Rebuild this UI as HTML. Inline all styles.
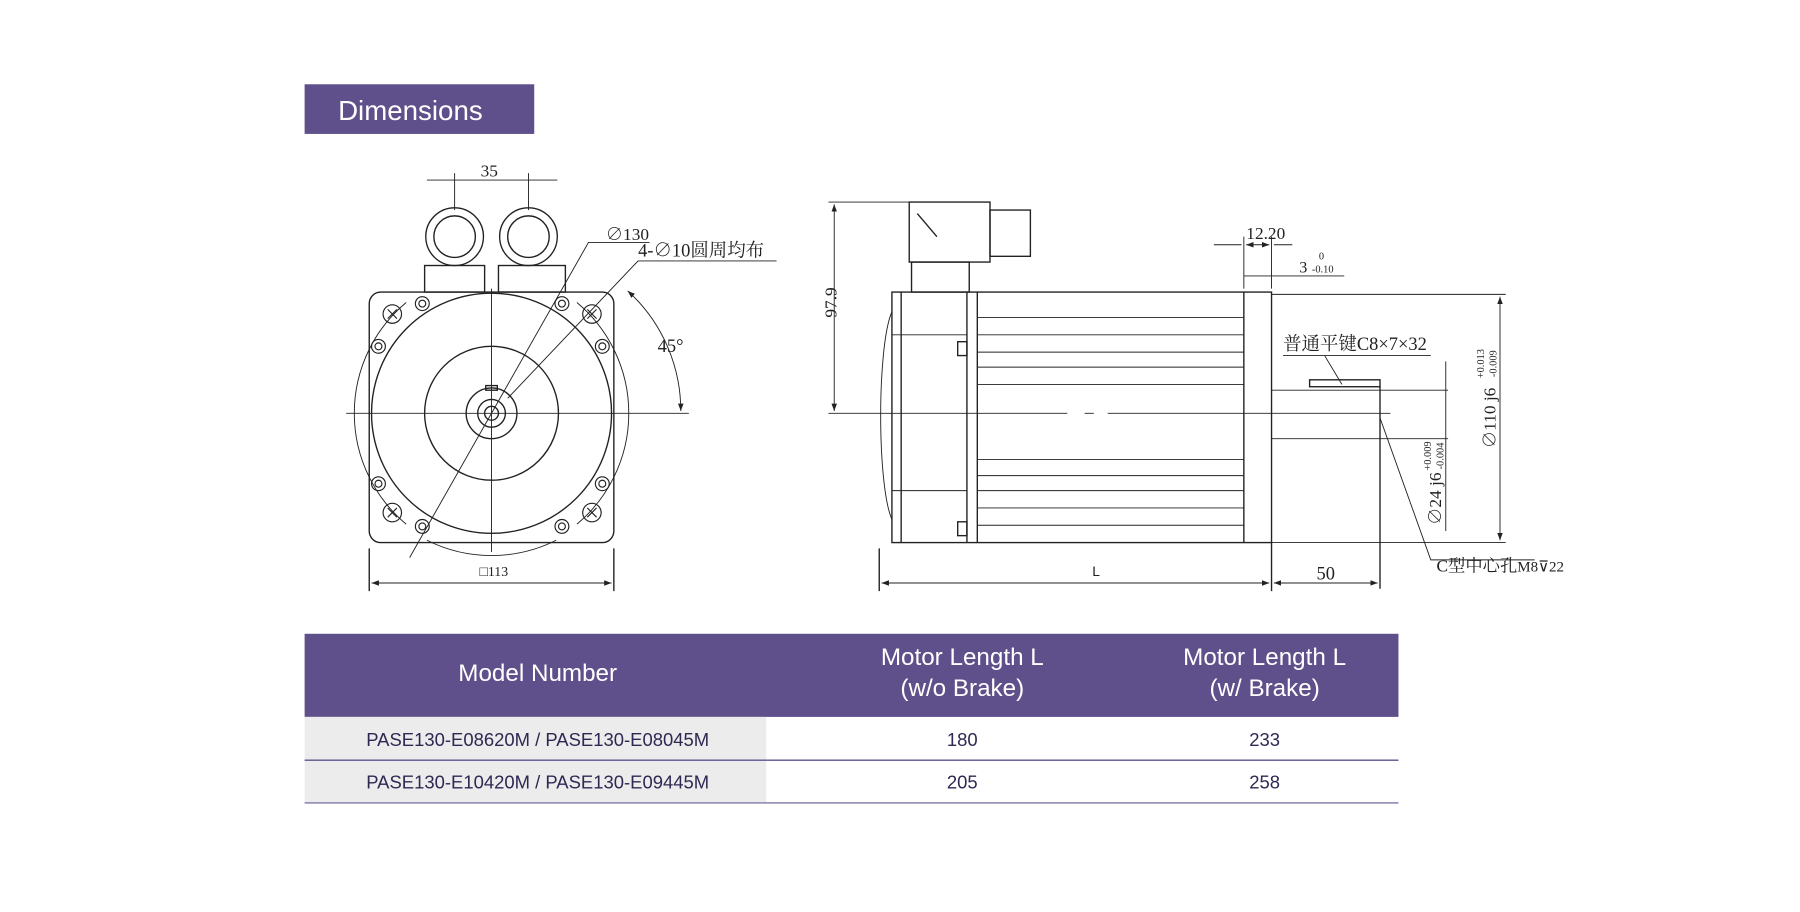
<!DOCTYPE html>
<html><head><meta charset="utf-8"><style>
html,body{margin:0;padding:0;background:#fff;}
svg{display:block}
text{font-family:"Liberation Serif","Noto Serif CJK SC",serif;fill:#222}
text.s,.s text{font-family:"Liberation Sans",sans-serif}
</style></head><body>
<svg width="1800" height="912" viewBox="0 0 1560 790" preserveAspectRatio="none" xmlns="http://www.w3.org/2000/svg">
<defs><marker id="a" markerWidth="8" markerHeight="6" refX="8" refY="3" orient="auto-start-reverse"><path d="M0,0L8,3L0,6z" fill="#222"/></marker></defs>
<rect x="264" y="73" width="199" height="43" fill="#5f4f8a"/>
<text x="293" y="104" class="s" font-size="24" style="fill:#fff">Dimensions</text>

<g stroke="#222" fill="none" stroke-width="1.2">
<rect x="320" y="253" width="212" height="217" rx="10"/>
<circle cx="426" cy="358" r="104"/>
<path d="M352,262 A125,125 0 0 0 352,454 M500,262 A125,125 0 0 1 500,454 M370,468 A125,125 0 0 0 482,468" stroke-width="0.8"/>
<circle cx="426" cy="358" r="58"/>
<circle cx="426" cy="358" r="22"/>
<circle cx="426" cy="358" r="12"/>
<circle cx="426" cy="358" r="6"/>
<rect x="421" y="334" width="10" height="4"/>
<g stroke-width="1">
<circle cx="366" cy="263" r="6"/><circle cx="366" cy="263" r="3"/>
<circle cx="487" cy="263" r="6"/><circle cx="487" cy="263" r="3"/>
<circle cx="328" cy="300" r="6"/><circle cx="328" cy="300" r="3"/>
<circle cx="522" cy="300" r="6"/><circle cx="522" cy="300" r="3"/>
<circle cx="328" cy="419" r="6"/><circle cx="328" cy="419" r="3"/>
<circle cx="522" cy="419" r="6"/><circle cx="522" cy="419" r="3"/>
<circle cx="366" cy="456" r="6"/><circle cx="366" cy="456" r="3"/>
<circle cx="487" cy="456" r="6"/><circle cx="487" cy="456" r="3"/>
<circle cx="340" cy="272" r="8"/><path d="M336,268l8,8M344,268l-8,8"/>
<circle cx="513" cy="272" r="8"/><path d="M509,268l8,8M517,268l-8,8"/>
<circle cx="340" cy="444" r="8"/><path d="M336,440l8,8M344,440l-8,8"/>
<circle cx="513" cy="444" r="8"/><path d="M509,440l8,8M517,440l-8,8"/>
</g>
<path d="M300,358H597M426,250V478" stroke-width="0.8"/>
<circle cx="394" cy="205" r="25"/><circle cx="394" cy="205" r="18"/>
<circle cx="458" cy="205" r="25"/><circle cx="458" cy="205" r="18"/>
<rect x="368" y="230" width="52" height="23"/><rect x="432" y="230" width="58" height="23"/>
<path d="M370,156H483M394,150V182M458,150V182" stroke-width="0.8"/>
<path d="M320,475V512M532,475V512"/>
<path d="M322,505H530" marker-start="url(#a)" marker-end="url(#a)" stroke-width="0.8"/>
<path d="M355,483L510,210H563" stroke-width="0.8"/>
<path d="M440,345L553,226H673" stroke-width="0.8"/>
<path d="M544,252A140,140 0 0 1 590,356" marker-start="url(#a)" marker-end="url(#a)" stroke-width="0.8"/>
<rect x="773" y="253" width="329" height="217"/>
<path d="M847,253V470M1078,253V470M781,253V470M838,253V470"/>
<path d="M847,275H1078M847,290H1078M847,305H1078M847,318H1078M847,333H1078M847,398H1078M847,412H1078M847,425H1078M847,440H1078M847,455H1078" stroke-width="0.8"/>
<path d="M773,290H838M773,425H838" stroke-width="0.8"/>
<rect x="830" y="296" width="8" height="12"/><rect x="830" y="452" width="8" height="12"/>
<path d="M773,270C760,300 760,420 773,450" stroke-width="0.8"/>
<path d="M788,175H858V227H788Z"/>
<path d="M858,182H893V222H858Z"/>
<path d="M790,227H840V253H790Z"/>
<path d="M795,185L812,205"/>
<path d="M1102,255H1305M1102,470H1305" stroke-width="0.8"/>
<path d="M1102,338H1255M1102,380H1255" stroke-width="0.8"/>
<rect x="1135" y="329" width="61" height="6"/>
<path d="M1196,335V510"/>
<path d="M718,358H925M940,358H948M960,358H1205" stroke-width="0.8"/>
<path d="M718,175H790" stroke-width="0.8"/>
<path d="M723,177V356" marker-start="url(#a)" marker-end="url(#a)" stroke-width="0.8"/>
<path d="M762,475V512M1102,470V512"/>
<path d="M764,505H1100" marker-start="url(#a)" marker-end="url(#a)" stroke-width="0.8"/>
<path d="M1104,505H1194" marker-start="url(#a)" marker-end="url(#a)" stroke-width="0.8"/>
<path d="M1078,205V250M1102,205V250" stroke-width="0.8"/>
<path d="M1052,212H1076M1104,212H1120" stroke-width="0.8"/>
<path d="M1080,212H1100" marker-start="url(#a)" marker-end="url(#a)" stroke-width="0.8"/>
<path d="M1078,239H1165" stroke-width="0.8"/>
<path d="M1300,257V468" marker-start="url(#a)" marker-end="url(#a)" stroke-width="0.8"/>
<path d="M1253,313V460" stroke-width="0.8"/>
<path d="M1112,308H1240M1148,308L1163,333" stroke-width="0.8"/>
<path d="M1196,362L1240,485H1330" stroke-width="0.8"/>
</g>
<text x="424" y="153" font-size="15" text-anchor="middle">35</text>
<text x="428" y="499" font-size="12" text-anchor="middle">□113</text>
<text x="525" y="208" font-size="15">∅130</text>
<text x="553" y="222" font-size="16">4-∅10圆周均布</text>
<text x="570" y="305" font-size="16">45°</text>
<text x="725" y="262" font-size="15" transform="rotate(-90 725 262)" text-anchor="middle">97.9</text>
<text x="950" y="499" font-size="12" class="s" text-anchor="middle">L</text>
<text x="1149" y="502" font-size="16" text-anchor="middle">50</text>
<text x="1097" y="207" font-size="15" text-anchor="middle">12.20</text>
<text x="1126" y="236" font-size="14">3</text>
<text x="1143" y="225" font-size="9">0</text>
<text x="1137" y="236" font-size="9">-0.10</text>
<text x="1112" y="303" font-size="16">普通平键C8×7×32</text>
<text x="1296" y="362" font-size="15" transform="rotate(-90 1296 362)" text-anchor="middle">∅110 j6</text>
<text x="1286" y="315" font-size="9" transform="rotate(-90 1286 315)" text-anchor="middle">+0.013</text>
<text x="1297" y="315" font-size="9" transform="rotate(-90 1297 315)" text-anchor="middle">-0.009</text>
<text x="1249" y="432" font-size="15" transform="rotate(-90 1249 432)" text-anchor="middle">∅24 j6</text>
<text x="1240" y="395" font-size="9" transform="rotate(-90 1240 395)" text-anchor="middle">+0.009</text>
<text x="1251" y="395" font-size="9" transform="rotate(-90 1251 395)" text-anchor="middle">-0.004</text>
<text x="1245" y="495" font-size="15">C型中心孔<tspan font-size="13">M8⊽22</tspan></text>

<rect x="264" y="549" width="948" height="72" fill="#5f4f8a"/>
<g class="s" font-size="21" text-anchor="middle">
<text x="466" y="590" style="fill:#fff">Model Number</text>
<text x="834" y="576" style="fill:#fff">Motor Length L</text>
<text x="834" y="603" style="fill:#fff">(w/o Brake)</text>
<text x="1096" y="576" style="fill:#fff">Motor Length L</text>
<text x="1096" y="603" style="fill:#fff">(w/ Brake)</text>
</g>
<rect x="264" y="621" width="400" height="37" fill="#ececec"/>
<rect x="264" y="659" width="400" height="36" fill="#ececec"/>
<path d="M264,658.5H1212" stroke="#5f4f8a" stroke-width="1.2"/>
<path d="M264,695.5H1212" stroke="#9a90b8" stroke-width="1.5"/>
<g class="s" font-size="16" text-anchor="middle">
<text x="466" y="646" style="fill:#2f2852">PASE130-E08620M / PASE130-E08045M</text>
<text x="834" y="646" style="fill:#2f2852">180</text>
<text x="1096" y="646" style="fill:#2f2852">233</text>
<text x="466" y="683" style="fill:#2f2852">PASE130-E10420M / PASE130-E09445M</text>
<text x="834" y="683" style="fill:#2f2852">205</text>
<text x="1096" y="683" style="fill:#2f2852">258</text>
</g>
</svg>
</body></html>
